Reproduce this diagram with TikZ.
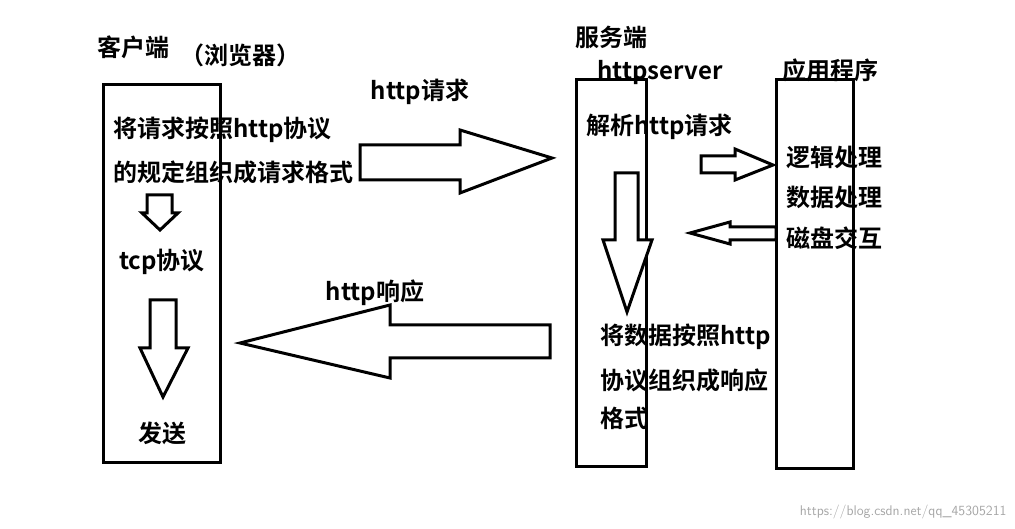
\documentclass[tikz,border=0pt]{standalone}
\usepackage{fontspec}
\newfontfamily\cjk{Noto Sans CJK SC}[BoldFont={Noto Sans CJK SC Bold}]
\tikzset{
  box/.style={draw=black, line width=3pt},
  lbl/.style={font=\cjk\bfseries\fontsize{24}{24}\selectfont, inner sep=0pt},
  blk/.style={draw=black, line width=3pt, fill=white, line join=miter}
}
\begin{document}
\begin{tikzpicture}[x=1pt,y=-1pt]
  \useasboundingbox (0,0) rectangle (1015,529);
  % boxes
  \draw [style=box] (103,85) rectangle (220,462);
  \draw [style=box] (576,80) rectangle (646,466);
  \draw [style=box] (776,80) rectangle (853,468);

  % client side
  \node [style=lbl] (client) at (133,47) {客户端};
  \node [style=lbl] (browser) at (240,55) {（浏览器）};
  \node [style=lbl, anchor=west] (pack1) at (113,130) {将请求按照http协议};
  \node [style=lbl, anchor=west] (pack2) at (113,172) {的规定组织成请求格式};
  \node [style=lbl] (tcp) at (162,262) {tcp协议};
  \node [style=lbl] (send) at (162,433) {发送};

  % server side
  \node [style=lbl] (server) at (611,37) {服务端};
  \node [style=lbl] (httpsrv) at (660,73) {httpserver};
  \node [style=lbl, anchor=west] (parse) at (586,127) {解析http请求};
  \node [style=lbl, anchor=west] (resp1) at (600,337) {将数据按照http};
  \node [style=lbl, anchor=west] (resp2) at (600,380) {协议组织成响应};
  \node [style=lbl, anchor=west] (resp3) at (600,418) {格式};

  % application
  \node [style=lbl] (app) at (830,70) {应用程序};
  \node [style=lbl, anchor=west] (logic) at (786,157) {逻辑处理};
  \node [style=lbl, anchor=west] (data) at (786,197) {数据处理};
  \node [style=lbl, anchor=west] (disk) at (786,238) {磁盘交互};

  % between
  \node [style=lbl] (req) at (420,92) {http请求};
  \node [style=lbl] (res) at (375,293) {http响应};

  % block arrows
  \draw [style=blk] (147,195) -- (172,195) -- (172,213) -- (178,213) -- (160,230) -- (142,213) -- (147,213) -- cycle;
  \draw [style=blk] (150,300) -- (176,300) -- (176,348) -- (188,348) -- (163,397) -- (140,348) -- (150,348) -- cycle;
  \draw [style=blk] (360,145) -- (460,145) -- (460,130) -- (552,158) -- (460,193) -- (460,180) -- (360,180) -- cycle;
  \draw [style=blk] (550,325) -- (390,325) -- (390,305) -- (240,343) -- (390,378) -- (390,358) -- (550,358) -- cycle;
  \draw [style=blk] (615,173) -- (638,173) -- (638,240) -- (652,240) -- (627,312) -- (603,240) -- (615,240) -- cycle;
  \draw [style=blk] (701,156) -- (735,156) -- (735,149) -- (773,165) -- (735,180) -- (735,173) -- (701,173) -- cycle;
  \draw [style=blk] (776,227) -- (730,227) -- (730,222) -- (690,233) -- (730,244) -- (730,240) -- (776,240) -- cycle;

  \node [font=\sffamily\fontsize{14}{14}\selectfont, text=gray!70, anchor=east] (mark) at (1010,512) {https://blog.csdn.net/qq\_45305211};
\end{tikzpicture}
\end{document}
